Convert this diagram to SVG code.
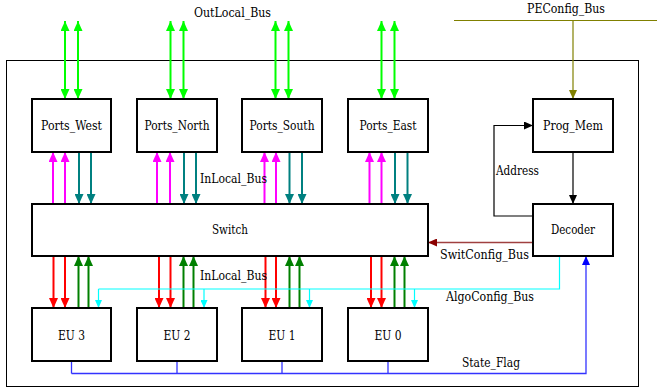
<svg xmlns="http://www.w3.org/2000/svg" width="657" height="388" viewBox="0 0 657 388">
<style>
text{font-family:'DejaVu Serif',serif;font-size:12px;fill:#000}
.box{fill:#fff;stroke:#000;stroke-width:2}
.c{text-anchor:middle}
.og{stroke:#00ff00;stroke-width:2}
.mg{stroke:#ff00ff;stroke-width:2}
.tl{stroke:#008080;stroke-width:2}
.rd{stroke:#ff0000;stroke-width:2}
.dg{stroke:#008000;stroke-width:2}
.cy{stroke:#00ffff;stroke-width:1.2}
.bl{stroke:#3333ff;stroke-width:1.3}
.dr{stroke:#a04040;stroke-width:1.5}
.ol{stroke:#808000;stroke-width:1.2}
.bk{stroke:#000;stroke-width:1.2}
</style>
<defs>
<marker id="aog" markerUnits="userSpaceOnUse" markerWidth="10" markerHeight="9" refX="10" refY="4.5" orient="auto-start-reverse"><path d="M0,0 L10,4.5 L0,9 z" fill="#00ff00"/></marker>
<marker id="amg" markerUnits="userSpaceOnUse" markerWidth="10" markerHeight="9" refX="10" refY="4.5" orient="auto"><path d="M0,0 L10,4.5 L0,9 z" fill="#ff00ff"/></marker>
<marker id="atl" markerUnits="userSpaceOnUse" markerWidth="10" markerHeight="9" refX="10" refY="4.5" orient="auto"><path d="M0,0 L10,4.5 L0,9 z" fill="#008080"/></marker>
<marker id="ard" markerUnits="userSpaceOnUse" markerWidth="10" markerHeight="9" refX="10" refY="4.5" orient="auto"><path d="M0,0 L10,4.5 L0,9 z" fill="#ff0000"/></marker>
<marker id="adg" markerUnits="userSpaceOnUse" markerWidth="10" markerHeight="9" refX="10" refY="4.5" orient="auto"><path d="M0,0 L10,4.5 L0,9 z" fill="#008000"/></marker>
<marker id="acy" markerUnits="userSpaceOnUse" markerWidth="8" markerHeight="7" refX="8" refY="3.5" orient="auto"><path d="M0,0 L8,3.5 L0,7 z" fill="#00ffff"/></marker>
<marker id="abl" markerUnits="userSpaceOnUse" markerWidth="9" markerHeight="8" refX="9" refY="4" orient="auto"><path d="M0,0 L9,4 L0,8 z" fill="#0000ff"/></marker>
<marker id="adr" markerUnits="userSpaceOnUse" markerWidth="9" markerHeight="8" refX="9" refY="4" orient="auto"><path d="M0,0 L9,4 L0,8 z" fill="#8b0000"/></marker>
<marker id="aol" markerUnits="userSpaceOnUse" markerWidth="9" markerHeight="8" refX="9" refY="4" orient="auto"><path d="M0,0 L9,4 L0,8 z" fill="#808000"/></marker>
<marker id="abk" markerUnits="userSpaceOnUse" markerWidth="9" markerHeight="8" refX="9" refY="4" orient="auto"><path d="M0,0 L9,4 L0,8 z" fill="#000"/></marker>
</defs>
<rect x="6.5" y="60.5" width="632" height="326" fill="none" stroke="#000" stroke-width="1"/>
<g id="connectors" fill="none">
<g id="outlocal" class="og" marker-start="url(#aog)" marker-end="url(#aog)">
<path d="M65,21 V99"/><path d="M78,21 V99"/>
<path d="M170.5,21 V99"/><path d="M183.5,21 V99"/>
<path d="M275.5,21 V99"/><path d="M288.5,21 V99"/>
<path d="M381.5,21 V99"/><path d="M394.5,21 V99"/>
</g>
<g class="mg" marker-end="url(#amg)">
<path d="M53,204 V152"/><path d="M65,204 V152"/>
<path d="M157,204 V152"/><path d="M170,204 V152"/>
<path d="M264.5,204 V152"/><path d="M276,204 V152"/>
<path d="M369.5,204 V152"/><path d="M381.5,204 V152"/>
</g>
<g class="tl" marker-end="url(#atl)">
<path d="M79,152 V204"/><path d="M91,152 V204"/>
<path d="M184,152 V204"/><path d="M196,152 V204"/>
<path d="M289.5,152 V204"/><path d="M302,152 V204"/>
<path d="M395,152 V204"/><path d="M407.5,152 V204"/>
</g>
<g class="rd" marker-end="url(#ard)">
<path d="M53.5,256 V308"/><path d="M65,256 V308"/>
<path d="M159,256 V308"/><path d="M170.5,256 V308"/>
<path d="M265.5,256 V308"/><path d="M276,256 V308"/>
<path d="M371,256 V308"/><path d="M381.5,256 V308"/>
</g>
<g class="dg" marker-end="url(#adg)">
<path d="M78.5,308 V256"/><path d="M88.5,308 V256"/>
<path d="M183.5,308 V256"/><path d="M193.5,308 V256"/>
<path d="M289.5,308 V256"/><path d="M299.5,308 V256"/>
<path d="M394.5,308 V256"/><path d="M404.5,308 V256"/>
</g>
<g class="cy">
<path d="M559.5,256 V289 H98.5"/>
<path d="M98.5,289 V308" marker-end="url(#acy)"/>
<path d="M204,289 V308" marker-end="url(#acy)"/>
<path d="M309.5,289 V308" marker-end="url(#acy)"/>
<path d="M414.5,289 V308" marker-end="url(#acy)"/>
</g>
<g class="bl">
<path d="M71.5,361 V373.5"/><path d="M177,361 V373.5"/><path d="M282,361 V373.5"/><path d="M388,361 V373.5"/>
<path d="M71.5,373.5 H586 V256" marker-end="url(#abl)"/>
</g>
<path class="dr" d="M533,242.5 H428" marker-end="url(#adr)"/>
<path class="bk" d="M533,216 H494 V125.5 H533" marker-end="url(#abk)"/>
<path class="bk" d="M573,152 V204" marker-end="url(#abk)"/>
<path class="ol" d="M454,20.5 H657"/>
<path class="ol" d="M573,20.5 V99" marker-end="url(#aol)"/>
</g>
<g id="Ports_West"><rect class="box" x="32" y="99" width="79" height="53"/><text class="c" x="71.5" y="130" textLength="61" lengthAdjust="spacingAndGlyphs">Ports_West</text></g>
<g id="Ports_North"><rect class="box" x="137" y="99" width="80" height="53"/><text class="c" x="177" y="130" textLength="65" lengthAdjust="spacingAndGlyphs">Ports_North</text></g>
<g id="Ports_South"><rect class="box" x="242" y="99" width="80" height="53"/><text class="c" x="282" y="130" textLength="65" lengthAdjust="spacingAndGlyphs">Ports_South</text></g>
<g id="Ports_East"><rect class="box" x="348" y="99" width="80" height="53"/><text class="c" x="388" y="130" textLength="57" lengthAdjust="spacingAndGlyphs">Ports_East</text></g>
<g id="Prog_Mem"><rect class="box" x="533" y="99" width="80" height="53"/><text class="c" x="573" y="130" textLength="60" lengthAdjust="spacingAndGlyphs">Prog_Mem</text></g>
<g id="Switch"><rect class="box" x="32" y="204" width="396" height="52"/><text class="c" x="230" y="234" textLength="36" lengthAdjust="spacingAndGlyphs">Switch</text></g>
<g id="Decoder"><rect class="box" x="533" y="204" width="80" height="52"/><text class="c" x="573" y="234" textLength="44" lengthAdjust="spacingAndGlyphs">Decoder</text></g>
<g id="EU3"><rect class="box" x="32" y="308" width="79" height="53"/><text class="c" x="71.5" y="339.5" textLength="27" lengthAdjust="spacingAndGlyphs">EU 3</text></g>
<g id="EU2"><rect class="box" x="137" y="308" width="80" height="53"/><text class="c" x="177" y="339.5" textLength="27" lengthAdjust="spacingAndGlyphs">EU 2</text></g>
<g id="EU1"><rect class="box" x="242" y="308" width="80" height="53"/><text class="c" x="282" y="339.5" textLength="27" lengthAdjust="spacingAndGlyphs">EU 1</text></g>
<g id="EU0"><rect class="box" x="348" y="308" width="80" height="53"/><text class="c" x="388" y="339.5" textLength="27" lengthAdjust="spacingAndGlyphs">EU 0</text></g>
<g id="labels">
<text x="194" y="17" textLength="77" lengthAdjust="spacingAndGlyphs">OutLocal_Bus</text>
<text x="527" y="13" textLength="78" lengthAdjust="spacingAndGlyphs">PEConfig_Bus</text>
<text x="200" y="182.5" textLength="67" lengthAdjust="spacingAndGlyphs">InLocal_Bus</text>
<text x="200" y="279.5" textLength="67" lengthAdjust="spacingAndGlyphs">InLocal_Bus</text>
<text x="496" y="174.5" textLength="43" lengthAdjust="spacingAndGlyphs">Address</text>
<text x="440" y="258.5" textLength="89" lengthAdjust="spacingAndGlyphs">SwitConfig_Bus</text>
<text x="446" y="301" textLength="88" lengthAdjust="spacingAndGlyphs">AlgoConfig_Bus</text>
<text x="462" y="367" textLength="58" lengthAdjust="spacingAndGlyphs">State_Flag</text>
</g>
</svg>
